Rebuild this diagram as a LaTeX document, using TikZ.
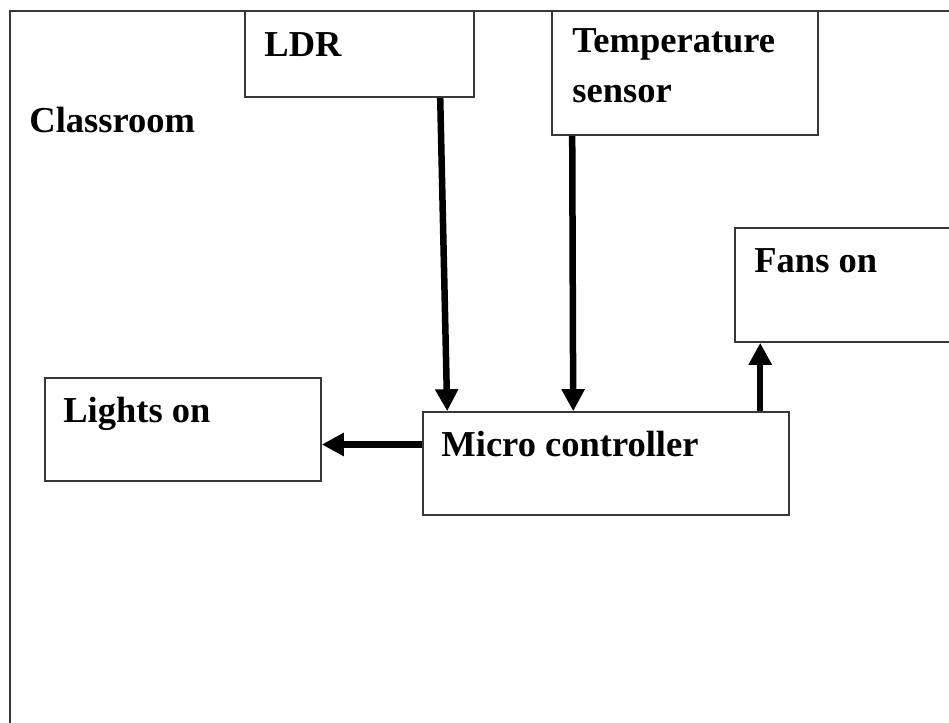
\documentclass[tikz,border=0pt]{standalone}
\usepackage{fontspec}
\setmainfont{Liberation Serif}
\usetikzlibrary{positioning, arrows.meta, calc}
\definecolor{framegray}{RGB}{55,55,55}

\begin{document}
\begin{tikzpicture}[x=1pt, y=-1pt,
  box/.style={draw=framegray, line width=1.6pt, inner sep=0pt},
  txt/.style={anchor=base west, inner sep=0pt, align=left, font=\fontsize{36.5}{50}\selectfont\bfseries},
  arr/.style={-{Triangle[width=22pt, length=22pt]}, line width=6.5pt}]
  \clip (0,0) rectangle (949,722);
  \fill[white] (0,0) rectangle (949,722);
  % boxes
  \node[box, minimum width=990pt, minimum height=789pt] (room) at (505,405.5) {};
  \node[box, fill=white, minimum width=229pt, minimum height=86pt] (ldr) at (359.5,54) {};
  \node[box, fill=white, minimum width=266pt, minimum height=124pt] (temp) at (685,73) {};
  \node[box, minimum width=275pt, minimum height=114pt] (fans) at (872.5,285) {};
  \node[box, minimum width=276pt, minimum height=103pt] (lights) at (183,429.5) {};
  \node[box, minimum width=366pt, minimum height=103pt] (micro) at (606,463.5) {};
  % texts
  \node[txt] (roomtxt) at ($(room.north west)+(20,122)$) {Classroom};
  \node[txt] (ldrtxt) at ($(ldr.north west)+(20,46)$) {LDR};
  \node[txt] (temptxt) at ($(temp.north west)+(21,92)$) {Temperature\\sensor};
  \node[txt] (fanstxt) at ($(fans.north west)+(20,45)$) {Fans on};
  \node[txt] (lightstxt) at ($(lights.north west)+(19,45)$) {Lights on};
  \node[txt] (microtxt) at ($(micro.north west)+(19,45)$) {Micro controller};
  % arrows
  \draw[arr] ([xshift=196pt]ldr.south west) -- ([xshift=25pt]micro.north west);
  \draw[arr] ([xshift=21pt]temp.south west) -- ([xshift=151pt]micro.north west);
  \draw[arr] ([xshift=338pt]micro.north west) -- ([xshift=338pt]micro.north west |- fans.south);
  \draw[arr] ([yshift=19pt]micro.west) -- ([yshift=19pt]micro.west -| lights.east);
\end{tikzpicture}
\end{document}
